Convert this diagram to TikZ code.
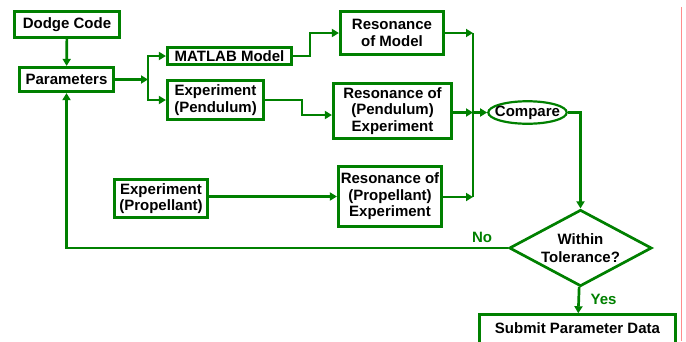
\documentclass[tikz,border=0pt]{standalone}
\usepackage{fontspec}
\setmainfont{Liberation Sans}
\usetikzlibrary{shapes.geometric,arrows.meta}
\definecolor{dgreen}{RGB}{0,128,0}

\begin{document}
\begin{tikzpicture}[x=1pt, y=-1pt,
        font=\bfseries\fontsize{15}{16.5}\selectfont,
        box/.style={draw=dgreen, line width=2.7pt, fill=white, align=center, inner sep=0pt},
        link/.style={dgreen, line width=2.7pt, -{Triangle[length=7pt,width=8pt]}},
        lbl/.style={text=dgreen, inner sep=0pt}]
        \useasboundingbox (0,0) rectangle (686,341);
        \draw[red!45, line width=0.8pt] (681.5,7) -- (681.5,341);
        % boxes
        \node[box, minimum width=105.5, minimum height=26.5] (dodge) at (67,24.5) {Dodge Code};
        \node[box, minimum width=94.5, minimum height=24.5] (params) at (66.5,79.5) {Parameters};
        \node[box, minimum width=124.5, minimum height=17.5] (matlab) at (229.5,56) {MATLAB Model};
        \node[box, minimum width=96.5, minimum height=39.5] (pend) at (215.5,100) {Experiment\\(Pendulum)};
        \node[box, minimum width=103.5, minimum height=43.5] (resmodel) at (392,33) {Resonance\\of Model};
        \node[box, minimum width=118.5, minimum height=55.5] (respend) at (392.5,111) {Resonance of\\(Pendulum)\\Experiment};
        \node[box, minimum width=93.5, minimum height=38.5] (prop) at (161,198.5) {Experiment\\(Propellant)};
        \node[box, minimum width=103.5, minimum height=60.5] (resprop) at (390,196.5) {Resonance of\\(Propellant)\\Experiment};
        \node[box, ellipse, line width=2.2pt, inner xsep=-5.5pt, minimum width=78.5, minimum height=22.5] (compare) at (527.5,112.5) {Compare};
        \node[box, diamond, aspect=2, minimum width=142.5, minimum height=76.5] (check) at (580.5,248) {Within\\[2pt]Tolerance?};
        \node[box, minimum width=196.5, text height=11pt, text depth=15pt, inner ysep=7.75pt, anchor=north] (submit) at (577.5,313.25) {Submit Parameter Data};
        % junction points
        \coordinate (split) at (148,79.5);
        \coordinate (bustop) at (473,33);
        \coordinate (busmid) at (473,112.5);
        \coordinate (busbot) at (473,197);
        % connectors
        \draw[link] (dodge) -- (params);
        \draw[link] (params) -- (split);
        \draw[link] (split) |- (matlab);
        \draw[link] (split) |- (pend);
        \draw[link] (matlab.east) -- ++(17,0) |- (resmodel);
        \draw[link] (pend.east) -- ++(37,0) |- ([yshift=-4pt]respend.west);
        \draw[link] (resmodel) -- (bustop);
        \draw[link] (respend.east |- busmid) -- (busmid);
        \draw[link] (resprop.east |- busbot) -- (busbot);
        \draw[dgreen, line width=2.7pt] (bustop) -- (busbot);
        \draw[link] (busmid) -- (compare);
        \draw[link] (prop.east |- resprop.west) -- (resprop);
        \draw[link] (compare) -| (check);
        \draw[link] (check) -- (submit);
        \draw[link] (check) -| (params);
        % labels
        \node[lbl] (no) at (482,237) {No};
        \node[lbl] (yes) at (603.5,299) {Yes};
\end{tikzpicture}
\end{document}
